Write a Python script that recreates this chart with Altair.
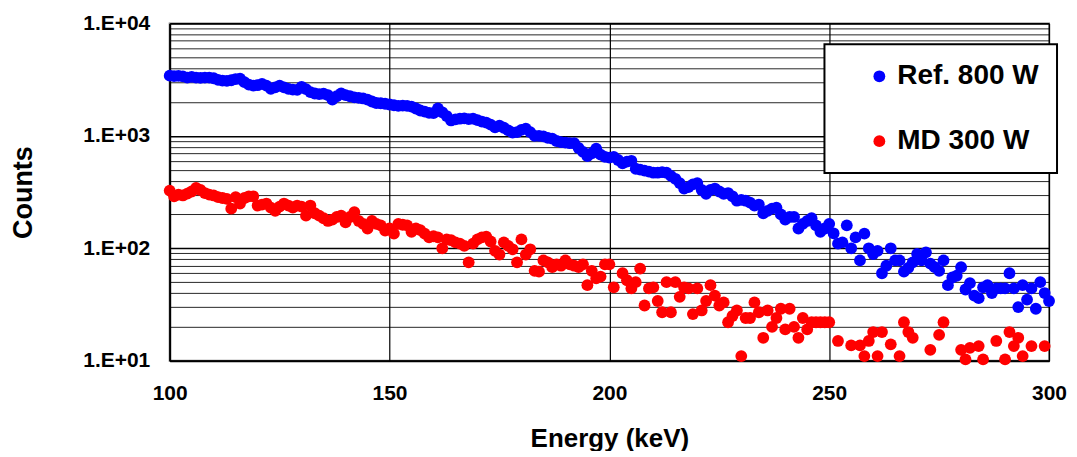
import altair as alt
import pandas as pd

# ---------------- data ----------------
series_names = ["Ref. 800 W", "MD 300 W"]
series_colors = ["#0000FF", "#FF0000"]

ref_energy = list(range(100, 301))
ref_counts = [
    3430, 3400, 3420, 3380, 3300, 3350, 3300, 3280, 3300, 3290,
    3250, 3150, 3100, 3080, 3120, 3200, 3220, 3000, 2850, 2800,
    2820, 2900, 2800, 2620, 2700, 2800, 2700, 2620, 2580, 2560,
    2730, 2600, 2450, 2380, 2350, 2370, 2300, 2100, 2250, 2380,
    2300, 2250, 2200, 2180, 2150, 2100, 2020, 1960, 1950, 1930,
    1900, 1870, 1850, 1860, 1850, 1820, 1750, 1680, 1640, 1600,
    1590, 1750, 1620, 1500, 1370, 1400, 1420, 1430, 1410, 1420,
    1380, 1340, 1310, 1260, 1190, 1230, 1180, 1120, 1070, 1080,
    1130, 1160, 1080, 1000, 1000, 990, 960, 945, 900, 880,
    870, 860, 860, 780, 720, 660, 700, 770, 680, 650,
    640, 650, 610, 570, 590, 600, 510, 500, 490, 480,
    470, 470, 475, 470, 440, 415, 380, 340, 350, 370,
    380, 330, 305, 330, 340, 320, 305, 310, 290, 265,
    270, 265, 255, 240, 245, 205, 215, 225, 230, 200,
    180, 190, 190, 150, 165, 175, 185, 160, 140, 150,
    165, 136, 110, 113, 160, 100, 125, 78, 135, 100,
    89, 95, 60, 70, 100, 78, 78, 62, 67, 75,
    89, 78, 92, 73, 68, 63, 78, 47, 55, 57,
    68, 43, 49, 38, 36, 45, 47, 40, 44, 44,
    44, 60, 44, 30, 47, 35, 44, 29, 50, 40,
    34,
]

md_energy = [
    100, 101, 102, 103, 104, 105, 106, 107, 108, 109,
    110, 111, 112, 113, 114, 115, 116, 117, 118, 119,
    120, 121, 122, 123, 124, 125, 126, 127, 128, 129,
    130, 131, 132, 133, 134, 135, 136, 137, 138, 139,
    140, 141, 142, 143, 144, 145, 146, 147, 148, 149,
    150, 151, 152, 153, 154, 155, 156, 157, 158, 159,
    160, 161, 162, 163, 164, 165, 166, 167, 168, 169,
    170, 171, 172, 173, 174, 175, 176, 177, 178, 179,
    180, 181, 182, 183, 184, 185, 186, 187, 188, 189,
    190, 191, 192, 193, 194, 195, 196, 197, 198, 199,
    200, 201, 203, 204, 205, 206, 207, 208, 209,
    210, 211, 212, 213, 214, 215, 216, 217, 218, 219,
    220, 221, 222, 223, 224, 225, 226, 227, 228, 229,
    230, 231, 232, 233, 234, 235, 236, 237, 238, 239,
    240, 241, 242, 243, 244, 245, 246, 247, 248, 249, 250,
    252, 255, 257, 258, 259, 260, 261, 262, 264, 266, 267, 268, 269,
    273, 275, 276, 280, 281, 282, 284, 285, 288, 290, 291, 292, 293,
    294, 296, 299,
]
md_counts = [
    326, 290, 300, 295, 306, 320, 345, 330, 310, 300,
    295, 285, 280, 275, 225, 285, 250, 280, 290, 290,
    240, 245, 250, 230, 215, 235, 250, 240, 230, 240,
    235, 195, 240, 205, 195, 185, 175, 180, 190, 195,
    170, 190, 210, 175, 165, 150, 175, 165, 160, 144,
    150, 135, 165, 162, 160, 140, 150, 145, 135, 125,
    128, 125, 100, 120, 118, 113, 110, 105, 75, 110,
    120, 125, 127, 115, 95, 88, 113, 105, 98, 75,
    120, 88, 98, 63, 62, 78, 75, 68, 72, 70,
    78, 72, 70, 68, 72, 47, 63, 54, 56, 72,
    72, 45, 60, 52, 44, 50, 66, 31, 44,
    45, 34, 27, 50, 27, 50, 37, 45, 44, 26,
    44, 28, 34, 47, 38, 31, 33, 22, 25, 28,
    11, 24, 24, 33, 27, 16, 28, 20, 24, 29,
    19, 29, 20, 16, 24, 19, 22, 22, 22, 22, 22,
    15, 13.7, 13.7, 11, 15, 18, 11, 18, 14, 11, 22, 18, 16,
    12.5, 17, 22, 12.5, 10.3, 13, 13.5, 10.3, 15, 10.3, 18, 13.5, 16,
    11, 13.5, 13.5,
]

x_tick_values = [100, 150, 200, 250, 300]
y_tick_values = [
    10, 20, 30, 40, 50, 60, 70, 80, 90,
    100, 200, 300, 400, 500, 600, 700, 800, 900,
    1000, 2000, 3000, 4000, 5000, 6000, 7000, 8000, 9000, 10000,
]

df = pd.concat([
    pd.DataFrame({"energy": ref_energy, "counts": ref_counts, "series": series_names[0]}),
    pd.DataFrame({"energy": md_energy, "counts": md_counts, "series": series_names[1]}),
], ignore_index=True)

FONT = "Liberation Sans"
is_decade = "abs(log(datum.value)/LN10 - round(log(datum.value)/LN10)) < 0.001"

chart = alt.Chart(df).mark_circle(size=140, opacity=1).encode(
    x=alt.X(
        "energy:Q",
        scale=alt.Scale(domain=[100, 300], nice=False, zero=False),
        axis=alt.Axis(
            values=x_tick_values,
            title="Energy (keV)",
            grid=True,
            gridColor="#000000",
            gridWidth=1.2,
            domainColor="#000000",
            domainWidth=2,
            ticks=False,
            labelFlush=False,
            labelPadding=22,
            titlePadding=22,
            labelFont=FONT,
            labelFontSize=21,
            labelFontWeight="bold",
            labelColor="#000000",
            titleFont=FONT,
            titleFontSize=26,
            titleFontWeight="bold",
            titleColor="#000000",
        ),
    ),
    y=alt.Y(
        "counts:Q",
        scale=alt.Scale(type="log", domain=[10, 10000], nice=False),
        axis=alt.Axis(
            values=y_tick_values,
            labelExpr=f"({is_decade}) ? '1.E+0' + round(log(datum.value)/LN10) : ''",
            title="Counts",
            grid=True,
            gridColor="#000000",
            gridWidth={"condition": {"test": is_decade, "value": 1.6}, "value": 1},
            gridOpacity={"condition": {"test": is_decade, "value": 1}, "value": 0.85},
            domainColor="#000000",
            domainWidth=2,
            ticks=False,
            labelFlush=False,
            labelPadding=20,
            titlePadding=45,
            labelFont=FONT,
            labelFontSize=21,
            labelFontWeight="bold",
            labelColor="#000000",
            titleFont=FONT,
            titleFontSize=27,
            titleFontWeight="bold",
            titleColor="#000000",
        ),
    ),
    color=alt.Color(
        "series:N",
        scale=alt.Scale(domain=series_names, range=series_colors),
        legend=alt.Legend(
            title=None,
            orient="none",
            legendX=656,
            legendY=21,
            padding=18,
            rowPadding=37,
            strokeColor="#000000",
            fillColor="#FFFFFF",
            symbolType="circle",
            symbolSize=140,
            symbolStrokeWidth=0,
            symbolOffset=23,
            labelOffset=4,
            labelFont=FONT,
            labelFontSize=28,
            labelFontWeight="bold",
            labelColor="#000000",
        ),
    ),
).properties(
    width=881,
    height=338,
    autosize=alt.AutoSizeParams(type="none"),
    padding={"left": 162, "top": 15, "right": 20, "bottom": 90},
).configure_view(
    stroke="#808080",
    strokeWidth=2,
).configure_legend(
    strokeWidth=2,
)

chart.save("out.html", embed_options={"renderer": "svg", "actions": False})
